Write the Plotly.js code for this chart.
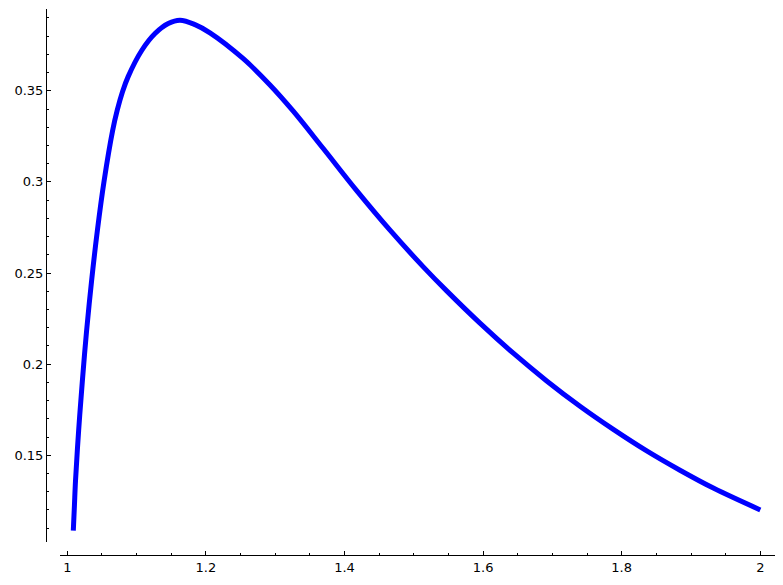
<!DOCTYPE html>
<html>
<head>
<meta charset="utf-8">
<script src="https://cdn.plot.ly/plotly-3.0.1.min.js"></script>
<style>
  html, body { margin: 0; padding: 0; background: #fff; }
  #plot { width: 783px; height: 585px; }
</style>
</head>
<body>
<div id="plot"></div>
<script>
// curve (lightly smoothed by eye)
var xs = [1.0087, 1.0103, 1.0119, 1.0164, 1.0218, 1.0279, 1.0351, 1.0434, 1.0532, 1.0654,
          1.0722, 1.0797, 1.0880, 1.1074, 1.1266, 1.1457, 1.1626, 1.1843, 1.2059, 1.2540,
          1.2925, 1.3261, 1.3694, 1.4176, 1.4657, 1.5137, 1.5475, 1.5955, 1.6436, 1.6918,
          1.7398, 1.7879, 1.8361, 1.8841, 1.9322, 2.0];
var ys = [0.1086, 0.1223, 0.1361, 0.1635, 0.1909, 0.2184, 0.2458, 0.2732, 0.3007, 0.3281,
          0.3395, 0.3495, 0.3579, 0.3721, 0.3814, 0.3869, 0.3887, 0.3863, 0.3818, 0.3676,
          0.3532, 0.3388, 0.3183, 0.2952, 0.2735, 0.2534, 0.2402, 0.2225, 0.2060, 0.1908,
          0.1769, 0.1642, 0.1524, 0.1418, 0.1320, 0.1200];

// tick labels
var xTickVals = [1, 1.2, 1.4, 1.6, 1.8, 2];
var xTickText = ["1", "1.2", "1.4", "1.6", "1.8", "2"];
var yTickVals = [0.15, 0.2, 0.25, 0.3, 0.35];
var yTickText = ["0.15", "0.2", "0.25", "0.3", "0.35"];

var trace = {
    x: xs,
    y: ys,
    type: "scatter",
    mode: "lines",
    line: {color: "#0000ff", width: 5, shape: "spline", smoothing: 1},
    hoverinfo: "skip"
};

var tickFont = {family: "DejaVu Sans", size: 13, color: "#000"};

var layout = {
    width: 783,
    height: 585,
    margin: {l: 46, r: 8, t: 9, b: 30},
    paper_bgcolor: "#fff",
    plot_bgcolor: "#fff",
    showlegend: false,
    xaxis: {
        domain: [0.0192, 1],
        anchor: "free",
        position: 0,
        range: [0.9895, 2.0212],
        tickmode: "array",
        tickvals: xTickVals,
        ticktext: xTickText,
        ticks: "inside",
        ticklen: 4,
        tickwidth: 1,
        tickcolor: "#000",
        tickfont: tickFont,
        showline: true,
        linecolor: "#000",
        linewidth: 1,
        showgrid: false,
        zeroline: false,
        minor: {ticks: "inside", ticklen: 2, tickwidth: 1, tickcolor: "#000",
                tick0: 1, dtick: 0.05, showgrid: false}
    },
    yaxis: {
        domain: [0.0238, 1],
        anchor: "free",
        position: 0,
        range: [0.10241, 0.39488],
        tickmode: "array",
        tickvals: yTickVals,
        ticktext: yTickText,
        ticks: "inside",
        ticklen: 4,
        tickwidth: 1,
        tickcolor: "#000",
        tickfont: tickFont,
        showline: true,
        linecolor: "#000",
        linewidth: 1,
        showgrid: false,
        zeroline: false,
        minor: {ticks: "inside", ticklen: 2, tickwidth: 1, tickcolor: "#000",
                tick0: 0.1, dtick: 0.01, showgrid: false}
    }
};

Plotly.newPlot("plot", [trace], layout, {staticPlot: true});
</script>
</body>
</html>
